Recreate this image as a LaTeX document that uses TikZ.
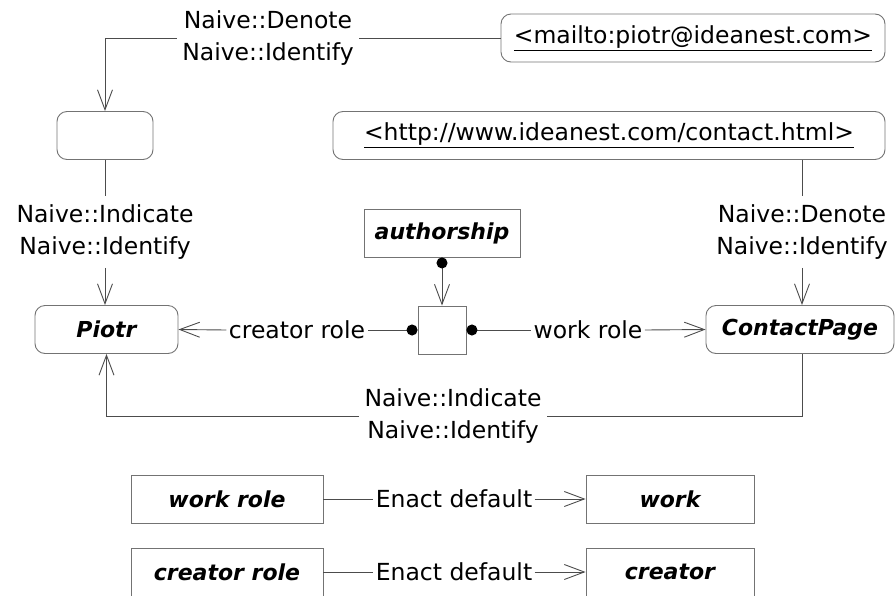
\documentclass[tikz,border=0pt]{standalone}
\usepackage{fontspec}
\setmainfont{DejaVu Sans}
\usepackage{xcolor}
\usepackage{tikz}
\usetikzlibrary{arrows.meta, positioning}

\definecolor{linegray}{gray}{0.3}
\definecolor{boxgray}{gray}{0.45}

\begin{document}
\begin{tikzpicture}[
    x=1pt, y=-1pt,
    >={Straight Barb[length=20pt, width=15pt]},
    line width=0.9pt,
    every node/.style={font=\fontsize{23.5}{32}\selectfont},
    wire/.style={draw=linegray},
    thing/.style={draw=boxgray, rounded corners=10pt, minimum height=48pt, inner sep=0pt},
    kind/.style={draw=boxgray, minimum height=48pt, inner sep=0pt},
    ital/.style={font=\fontsize{22}{26}\selectfont\bfseries\itshape},
    lbl/.style={align=center, inner xsep=5pt, inner ysep=8pt},
    role/.style={inner xsep=2pt, inner ysep=0pt},
    ball/.style={{Circle[length=11pt, color=black]}-},
    ballto/.style={{Circle[length=11pt, color=black]}->}
  ]
  \useasboundingbox (0,0) rectangle (895,595);
  \clip (0,0) rectangle (895,595);

  % Resources
  \node[thing, minimum width=384pt] (mailto) at (693, 38) {\underline{<mailto:piotr@ideanest.com>}};
  \node[thing, minimum width=96pt]  (blank)  at (105, 135.5) {};
  \node[thing, minimum width=552pt] (http)   at (609, 135.5) {\underline{<http://www.ideanest.com/contact.html>}};

  \node[thing, ital, minimum width=143pt] (piotr) at (106.5, 329.5) {Piotr};
  \node[thing, ital, minimum width=188pt] (page)  at (800, 329.5) {ContactPage};

  % Relationship
  \node[kind, ital, minimum width=156pt] (auth) at (442, 233) {authorship};
  \node[kind, minimum width=48pt] (link) at (442, 330) {};

  % Labels
  \node[lbl] (mailden) at (268, 38)  {Naive::Denote\\Naive::Identify};
  \node[lbl] (blankind) at (105, 232) {Naive::Indicate\\Naive::Identify};
  \node[lbl] (httpden) at (802, 232) {Naive::Denote\\Naive::Identify};
  \node[lbl] (pageind) at (453, 416) {Naive::Indicate\\Naive::Identify};
  \node[role] (creatorlbl) at (297, 330) {creator role};
  \node[role] (worklbl)    at (588, 330) {work role};

  % Arrows
  \draw[wire] (mailto.west) -- (mailden.east);
  \draw[wire, ->] (mailden.west) -| (blank.north);
  \draw[wire] (blank.south) -- (blankind.north);
  \draw[wire, ->] (blankind.south) -- (blankind.south |- piotr.north);
  \draw[wire] (httpden.north |- http.south) -- (httpden.north);
  \draw[wire, ->] (httpden.south) -- (httpden.south |- page.north);
  \draw[wire] (page.south -| httpden.south) |- (pageind.east);
  \draw[wire, ->] (pageind.west) -| (piotr.south);

  \draw[wire, ballto] (auth.south) -- (link.north);
  \draw[wire, ball] (link.west) -- (creatorlbl.east);
  \draw[wire, ->] (creatorlbl.west) -- (piotr.east);
  \draw[wire, ball] (link.east) -- (worklbl.west);
  \draw[wire, ->] (worklbl.east) -- (page.west);

  % Defaults
  \node[kind, ital, minimum width=192pt] (workrole)    at (227, 499) {work role};
  \node[kind, ital, minimum width=168pt] (work)        at (670, 499) {work};
  \node[role] (enactwork) at (454, 499) {Enact default};
  \node[kind, ital, minimum width=192pt] (creatorrole) at (227, 572) {creator role};
  \node[kind, ital, minimum width=168pt] (creator)     at (670, 572) {creator};
  \node[role] (enactcreator) at (454, 572) {Enact default};

  \draw[wire] (workrole.east) -- (enactwork.west);
  \draw[wire, ->] (enactwork.east) -- (work.west);
  \draw[wire] (creatorrole.east) -- (enactcreator.west);
  \draw[wire, ->] (enactcreator.east) -- (creator.west);
\end{tikzpicture}
\end{document}
